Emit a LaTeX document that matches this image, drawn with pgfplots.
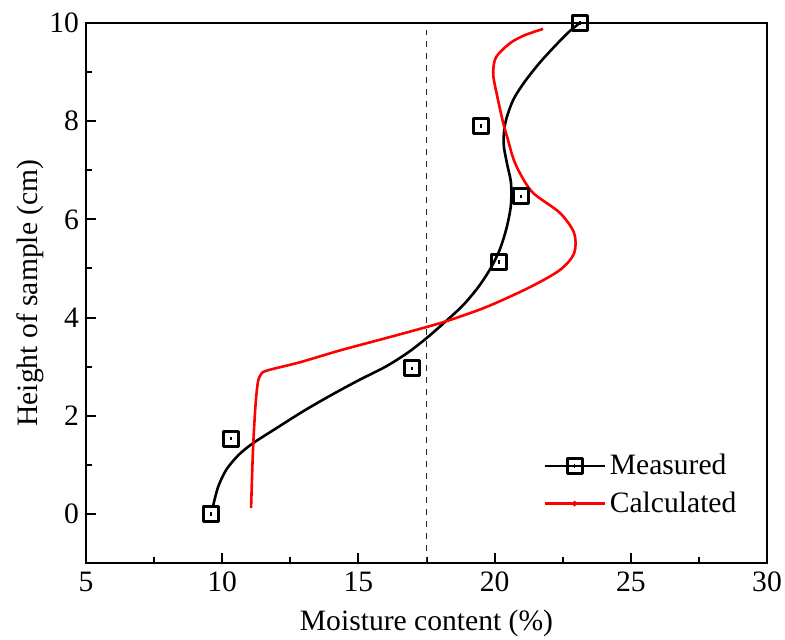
\documentclass[border=0pt]{standalone}
\usepackage{fontspec}
\setmainfont{Liberation Serif}
\usepackage{pgfplots}
\pgfplotsset{compat=1.18}
\pgfdeclareplotmark{sqdot}{%
  \pgfsetroundjoin
  \pgfsetlinewidth{1.5pt}%
  \pgfpathrectangle{\pgfpoint{-\pgfplotmarksize}{-\pgfplotmarksize}}{\pgfpoint{2\pgfplotmarksize}{2\pgfplotmarksize}}%
  \pgfusepathqstroke
  \pgfsetlinewidth{0.7pt}%
  \pgfpathmoveto{\pgfpoint{0pt}{-0.8pt}}\pgfpathlineto{\pgfpoint{0pt}{0.8pt}}%
  \pgfusepathqstroke
  \pgfsetlinewidth{1.5pt}}
\begin{document}
\begin{tikzpicture}
\path[use as bounding box] (-43pt,-38pt) rectangle (349.5pt,281.5pt);
\begin{axis}[
  at={(0,0)}, anchor=south west,
  scale only axis, width=340.5pt, height=270pt,
  xmin=5, xmax=30, ymin=-1, ymax=10,
  xtick={5,10,...,30}, ytick={0,2,...,10},
  minor xtick={7.5,12.5,...,27.5}, minor ytick={-1,1,...,9},
  tick align=inside, xtick pos=bottom, ytick pos=left,
  major tick length=5pt, minor tick length=3pt,
  axis line style={line width=1pt}, tick style={line width=1pt, black},
  every tick label/.style={font=\fontsize{14.8}{17}\selectfont},
  xticklabel style={yshift=-1pt},
  /pgf/number format/assume math mode=true,
  xlabel={Moisture content (\%)}, ylabel={Height of sample (cm)},
  label style={font=\fontsize{14.8}{17}\selectfont},
  xlabel style={yshift=-2pt}, ylabel style={yshift=-4pt},
  legend image code/.code={\draw[mark repeat=2,mark phase=2,#1] plot coordinates {(0pt,0pt)(15pt,0pt)(30pt,0pt)};},
  legend style={at={(0.662,0.217)}, anchor=north west, draw=none, fill=none,
    font=\fontsize{14.8}{17}\selectfont, row sep=3pt, cells={anchor=west}},
]
\addplot[black!85, dashed, line width=0.8pt, forget plot] coordinates {(17.5,-1) (17.5,9.85)};
\addplot[black, line width=1.3pt, smooth, forget plot] coordinates {
(9.66,0.15) (9.85,0.55) (10.15,0.9) (10.6,1.2) (11.13,1.44) (12.0,1.75) (13.0,2.1)
(14.0,2.42) (15.0,2.72) (16.0,3.0) (16.8,3.28) (17.5,3.58) (18.2,3.92) (18.84,4.25)
(19.4,4.62) (19.85,5.0) (20.2,5.4) (20.45,5.85) (20.6,6.3) (20.6,6.75) (20.45,7.15)
(20.33,7.55) (20.4,7.98) (20.68,8.43) (21.1,8.8) (21.67,9.2) (22.3,9.58) (22.77,9.84)
(23.13,10.0)};
\addplot[red, line width=1.3pt, smooth, forget plot] coordinates {
(11.06,0.12) (11.13,1.30) (11.22,2.2) (11.31,2.68) (11.42,2.84) (11.64,2.92)
(12.86,3.09) (14.32,3.33) (15.8,3.55) (17.26,3.77) (18.25,3.93) (19.72,4.22)
(21.30,4.62) (22.40,4.97) (22.92,5.31) (22.92,5.72) (22.40,6.13) (21.41,6.54)
(20.93,6.94) (20.68,7.25) (20.5,7.6) (20.3,8.0) (20.1,8.5) (19.95,8.95) (20.05,9.3)
(20.57,9.59) (21.1,9.75) (21.78,9.88)};
\addplot[black, only marks, mark=sqdot, mark size=3.75pt, forget plot] coordinates {
(9.59,0) (10.32,1.53) (16.97,2.97) (20.16,5.13) (20.97,6.47) (19.5,7.9) (23.13,10)};
\addlegendimage{black, line width=1.3pt, mark=sqdot, mark size=3.75pt}
\addlegendentry{Measured}
\addlegendimage{red, line width=1.3pt, mark=*, mark size=0.6pt}
\addlegendentry{Calculated}
\end{axis}
\end{tikzpicture}
\end{document}
